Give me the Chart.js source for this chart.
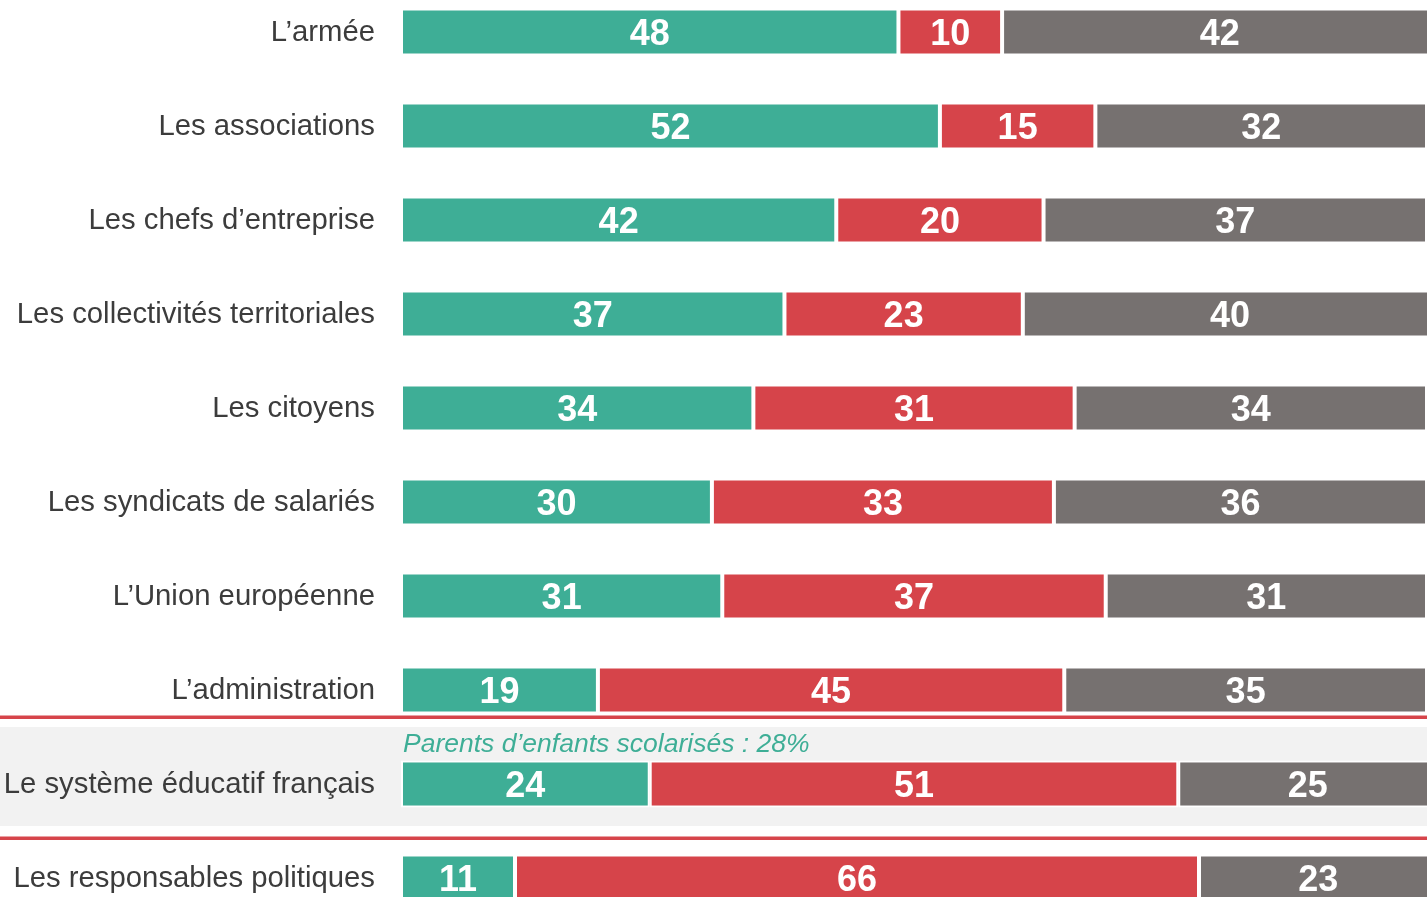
<!DOCTYPE html>
<html>
<head>
<meta charset="utf-8">
<script src="https://cdn.jsdelivr.net/npm/chart.js@4/dist/chart.umd.min.js"></script>
<style>
  html, body { margin: 0; padding: 0; background: #fff; overflow: hidden; }
  #wrap { position: absolute; left: 0; top: -15px; width: 1427px; height: 940px; }
</style>
</head>
<body>
<div id="wrap"><canvas id="myChart" width="1427" height="940"></canvas></div>
<script>
// categories + series
var categories = [
    "L\u2019armée",
    "Les associations",
    "Les chefs d\u2019entreprise",
    "Les collectivités territoriales",
    "Les citoyens",
    "Les syndicats de salariés",
    "L\u2019Union européenne",
    "L\u2019administration",
    "Le système éducatif français",
    "Les responsables politiques"
];
var greenValues = [48, 52, 42, 37, 34, 30, 31, 19, 24, 11];
var redValues   = [10, 15, 20, 23, 31, 33, 37, 45, 51, 66];
var greyValues  = [42, 32, 37, 40, 34, 36, 31, 35, 25, 23];
var noteText = "Parents d\u2019enfants scolarisés : 28%";
var noteRow = 8;

var GREEN = '#3EAE96', RED = '#D6444A', GREY = '#767170';

// grey band + red lines around the highlighted row, and the italic note
// (drawn first so the axis labels and bars go on top)
var bandPlugin = {
    id: 'band',
    beforeDraw: function(chart) {
        var ctx = chart.ctx;
        var y = chart.scales.y;
        var c = y.getPixelForValue(noteRow);
        var w = chart.width;
        ctx.save();
        ctx.fillStyle = '#F2F2F2';
        ctx.fillRect(0, c - 57, w, 99);
        ctx.fillStyle = RED;
        ctx.fillRect(0, c - 68.5, w, 3.5);
        ctx.fillRect(0, c + 52.5, w, 3.5);
        ctx.fillStyle = GREEN;
        ctx.font = 'italic 26.5px "Liberation Sans", Arial, sans-serif';
        ctx.textAlign = 'left';
        ctx.textBaseline = 'alphabetic';
        ctx.fillText(noteText, chart.chartArea.left + 2, c - 32);
        ctx.restore();
    }
};

// white values in middle of each segment
var valuePlugin = {
    id: 'values',
    afterDatasetsDraw: function(chart) {
        var ctx = chart.ctx;
        ctx.save();
        ctx.fillStyle = '#fff';
        ctx.font = 'bold 36px "Liberation Sans", Arial, sans-serif';
        ctx.textAlign = 'center';
        ctx.textBaseline = 'alphabetic';
        chart.data.datasets.forEach(function(ds, i) {
            var meta = chart.getDatasetMeta(i);
            meta.data.forEach(function(bar, j) {
                var cx = (bar.x + bar.base) / 2;
                ctx.fillText(ds.data[j], cx, bar.y + 13);
            });
        });
        ctx.restore();
    }
};

var ctx = document.getElementById("myChart").getContext('2d');
var myChart = new Chart(ctx, {
    type: 'bar',
    data: {
        labels: categories,
        datasets: [
            { data: greenValues, backgroundColor: GREEN },
            { data: redValues, backgroundColor: RED },
            { data: greyValues, backgroundColor: GREY }
        ]
    },
    options: {
        indexAxis: 'y',
        responsive: false,
        animation: false,
        layout: { padding: 0 },
        datasets: {
            bar: {
                borderColor: '#fff',
                borderWidth: 2,
                borderSkipped: false,
                barPercentage: 0.5,
                categoryPercentage: 1
            }
        },
        plugins: {
            legend: { display: false },
            tooltip: { enabled: false }
        },
        scales: {
            x: {
                stacked: true,
                min: 0,
                max: 99,
                display: false
            },
            y: {
                stacked: true,
                border: { display: false },
                grid: { display: false, drawTicks: false },
                ticks: {
                    color: '#3c3c3c',
                    padding: 26,
                    labelOffset: 1,
                    font: { family: '"Liberation Sans", Arial, sans-serif', size: 29.3 }
                },
                afterFit: function(scale) {
                    scale.width = 401;
                    scale.paddingTop = 0;
                    scale.paddingBottom = 0;
                }
            }
        }
    },
    plugins: [bandPlugin, valuePlugin]
});
</script>
</body>
</html>
